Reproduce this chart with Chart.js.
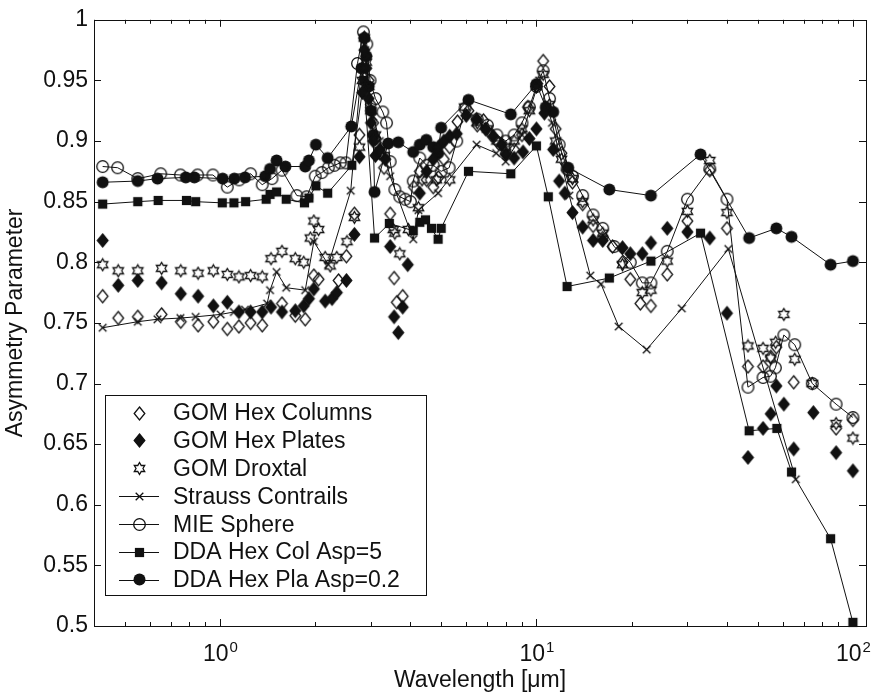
<!DOCTYPE html>
<html>
<head>
<meta charset="utf-8">
<title>Asymmetry Parameter vs Wavelength</title>
<script src="https://cdn.jsdelivr.net/npm/chart.js@4.4.1/dist/chart.umd.min.js"></script>
<style>
  html, body { margin: 0; padding: 0; background: #fff; }
  #wrap { width: 872px; height: 693px; }
</style>
</head>
<body>
<div id="wrap"><canvas id="chart" width="872" height="693"></canvas></div>
<script>
// ---------------------------------------------------------------------------
// Data (wavelength in micrometres, asymmetry parameter g)
// ---------------------------------------------------------------------------
const gomColWl = [0.426, 0.477, 0.55, 0.654, 0.752, 0.853, 0.953, 1.055, 1.148, 1.25, 1.36, 1.57, 1.73, 1.86, 1.98, 2.05, 2.37, 2.51, 2.66, 2.76, 2.82, 2.86, 2.9, 2.95, 3.0, 3.05, 3.1, 3.2, 3.3, 3.45, 3.55, 3.62, 3.78, 4.1, 4.28, 4.5, 4.72, 4.9, 5.1, 5.32, 5.63, 6.1, 6.5, 6.8, 7.2, 7.6, 8.0, 8.5, 9.0, 9.4, 10.0, 10.5, 11.0, 11.5, 12.0, 12.5, 13.0, 14.0, 15.1, 16.2, 17.4, 18.7, 19.8, 21.3, 23.0, 25.9, 30.0, 35.3, 40.0, 46.6, 52.0, 55.0, 57.3, 65.0, 88.5, 100];
const gomColG = [0.772, 0.754, 0.755, 0.757, 0.751, 0.748, 0.751, 0.745, 0.747, 0.750, 0.748, 0.766, 0.756, 0.753, 0.789, 0.786, 0.785, 0.805, 0.840, 0.905, 0.960, 0.985, 0.970, 0.950, 0.930, 0.915, 0.902, 0.890, 0.878, 0.840, 0.787, 0.767, 0.772, 0.862, 0.875, 0.868, 0.862, 0.870, 0.885, 0.895, 0.916, 0.925, 0.913, 0.917, 0.905, 0.898, 0.890, 0.893, 0.905, 0.928, 0.945, 0.966, 0.945, 0.910, 0.890, 0.876, 0.866, 0.848, 0.830, 0.820, 0.813, 0.800, 0.786, 0.766, 0.764, 0.790, 0.834, 0.876, 0.828, 0.714, 0.714, 0.722, 0.730, 0.701, 0.663, 0.670];

const gomPlaWl = [0.426, 0.477, 0.55, 0.654, 0.752, 0.853, 0.953, 1.055, 1.148, 1.25, 1.36, 1.45, 1.57, 1.73, 1.84, 1.91, 1.98, 2.15, 2.26, 2.34, 2.51, 2.66, 2.76, 2.82, 2.86, 2.9, 2.95, 3.0, 3.05, 3.1, 3.2, 3.33, 3.45, 3.55, 3.66, 3.78, 3.92, 4.28, 4.5, 4.72, 4.9, 5.1, 5.32, 5.6, 6.0, 6.47, 6.9, 7.3, 7.76, 8.0, 8.5, 9.07, 9.5, 10.0, 10.6, 11.3, 11.8, 12.3, 13.0, 14.0, 15.1, 16.2, 18.7, 19.8, 21.6, 23.0, 25.9, 30.0, 35.3, 40.0, 46.6, 52.0, 55.0, 57.3, 60.5, 65.0, 75.0, 88.5, 100];
const gomPlaG = [0.818, 0.781, 0.785, 0.783, 0.774, 0.772, 0.764, 0.767, 0.759, 0.759, 0.759, 0.763, 0.759, 0.760, 0.764, 0.770, 0.778, 0.768, 0.770, 0.775, 0.785, 0.823, 0.887, 0.940, 0.975, 0.960, 0.935, 0.915, 0.900, 0.888, 0.893, 0.885, 0.813, 0.755, 0.742, 0.763, 0.798, 0.857, 0.875, 0.885, 0.895, 0.900, 0.904, 0.906, 0.921, 0.918, 0.910, 0.904, 0.897, 0.889, 0.886, 0.891, 0.902, 0.910, 0.923, 0.893, 0.867, 0.857, 0.841, 0.829, 0.818, 0.818, 0.812, 0.807, 0.807, 0.816, 0.828, 0.825, 0.820, 0.758, 0.639, 0.663, 0.675, 0.698, 0.683, 0.646, 0.676, 0.643, 0.628];

const gomDroxWl = [0.426, 0.477, 0.55, 0.654, 0.752, 0.853, 0.953, 1.055, 1.148, 1.25, 1.36, 1.45, 1.57, 1.73, 1.84, 1.93, 1.98, 2.05, 2.15, 2.23, 2.34, 2.52, 2.66, 2.76, 2.82, 2.86, 2.9, 2.95, 3.0, 3.1, 3.2, 3.3, 3.53, 3.57, 3.7, 3.94, 4.24, 4.35, 4.83, 5.32, 5.93, 6.5, 7.0, 7.5, 8.0, 8.5, 9.0, 9.5, 10.0, 10.5, 11.0, 11.5, 12.0, 13.0, 14.0, 15.1, 16.2, 18.7, 21.6, 23.0, 25.9, 30.0, 35.3, 40.0, 46.6, 52.0, 55.0, 57.0, 60.5, 65.5, 74.4, 88.5, 100];
const gomDroxG = [0.798, 0.793, 0.793, 0.795, 0.793, 0.791, 0.793, 0.790, 0.788, 0.789, 0.788, 0.803, 0.809, 0.803, 0.800, 0.820, 0.834, 0.827, 0.804, 0.797, 0.804, 0.817, 0.837, 0.895, 0.950, 0.985, 0.965, 0.945, 0.925, 0.905, 0.892, 0.888, 0.827, 0.824, 0.807, 0.827, 0.845, 0.868, 0.868, 0.868, 0.928, 0.915, 0.910, 0.900, 0.895, 0.900, 0.910, 0.925, 0.945, 0.955, 0.930, 0.900, 0.885, 0.869, 0.850, 0.835, 0.824, 0.798, 0.775, 0.777, 0.801, 0.842, 0.884, 0.841, 0.731, 0.729, 0.721, 0.734, 0.757, 0.720, 0.700, 0.667, 0.655];

const straussWl = [0.426, 0.55, 0.635, 0.75, 0.838, 1.005, 1.107, 1.2, 1.41, 1.44, 1.51, 1.62, 1.86, 1.98, 2.2, 2.59, 2.8, 2.88, 2.95, 3.05, 3.2, 3.45, 4.08, 4.24, 4.89, 6.47, 7.46, 8.0, 9.0, 10.2, 11.2, 12.7, 14.8, 16.0, 18.2, 22.3, 28.8, 40.4, 66.0];
const straussG = [0.746, 0.751, 0.753, 0.754, 0.755, 0.757, 0.759, 0.761, 0.766, 0.777, 0.792, 0.779, 0.777, 0.817, 0.798, 0.859, 0.960, 0.975, 0.945, 0.920, 0.900, 0.871, 0.819, 0.843, 0.857, 0.897, 0.890, 0.883, 0.905, 0.950, 0.915, 0.855, 0.789, 0.782, 0.747, 0.728, 0.762, 0.811, 0.621];

const mieWl = [0.426, 0.475, 0.55, 0.65, 0.75, 0.85, 0.95, 1.055, 1.15, 1.25, 1.36, 1.46, 1.57, 1.75, 1.88, 2.0, 2.1, 2.2, 2.3, 2.4, 2.5, 2.72, 2.84, 2.91, 2.98, 3.1, 3.27, 3.36, 3.45, 3.57, 3.7, 3.85, 4.0, 4.08, 4.28, 4.5, 4.72, 5.0, 5.3, 5.6, 5.95, 6.5, 7.0, 7.5, 8.0, 8.5, 9.0, 9.5, 10.0, 10.5, 11.0, 11.8, 12.5, 13.0, 14.0, 15.1, 16.2, 17.6, 19.8, 21.6, 23.0, 25.9, 30.0, 35.3, 40.0, 46.6, 52.0, 54.9, 56.9, 60.5, 65.5, 74.4, 88.5, 100];
const mieG = [0.879, 0.878, 0.869, 0.873, 0.872, 0.872, 0.872, 0.862, 0.868, 0.873, 0.864, 0.869, 0.876, 0.855, 0.854, 0.871, 0.874, 0.878, 0.880, 0.882, 0.882, 0.964, 0.990, 0.980, 0.950, 0.935, 0.924, 0.915, 0.883, 0.860, 0.854, 0.852, 0.850, 0.867, 0.886, 0.880, 0.880, 0.875, 0.878, 0.900, 0.927, 0.918, 0.913, 0.905, 0.900, 0.905, 0.915, 0.928, 0.945, 0.958, 0.935, 0.897, 0.877, 0.871, 0.855, 0.839, 0.828, 0.813, 0.800, 0.783, 0.783, 0.809, 0.852, 0.877, 0.852, 0.697, 0.705, 0.706, 0.713, 0.740, 0.732, 0.700, 0.683, 0.672];

const ddaColWl = [0.426, 0.55, 0.638, 0.784, 0.838, 1.017, 1.107, 1.205, 1.40, 1.44, 1.51, 1.62, 1.85, 1.91, 2.01, 2.19, 2.61, 2.85, 3.08, 3.43, 4.08, 4.28, 4.46, 4.66, 4.89, 5.0, 6.1, 8.3, 10.0, 10.9, 12.5, 17.0, 23.0, 33.0, 47.0, 57.5, 64.0, 85.0, 100];
const ddaColG = [0.848, 0.850, 0.851, 0.851, 0.850, 0.849, 0.849, 0.850, 0.852, 0.856, 0.858, 0.852, 0.849, 0.853, 0.863, 0.857, 0.880, 0.950, 0.820, 0.832, 0.826, 0.833, 0.835, 0.828, 0.819, 0.828, 0.875, 0.873, 0.896, 0.854, 0.780, 0.787, 0.801, 0.824, 0.661, 0.663, 0.627, 0.572, 0.503];

const ddaPlaWl = [0.426, 0.55, 0.635, 0.78, 0.83, 1.02, 1.11, 1.20, 1.39, 1.44, 1.51, 1.61, 1.86, 1.91, 2.01, 2.19, 2.60, 2.80, 2.86, 2.90, 2.95, 3.00, 3.05, 3.08, 3.40, 3.66, 4.08, 4.28, 4.49, 4.72, 4.89, 5.0, 6.1, 8.3, 10.0, 10.7, 11.3, 12.6, 17.0, 23.0, 33.0, 47.0, 57.3, 64.0, 85.0, 100];
const ddaPlaG = [0.866, 0.867, 0.869, 0.870, 0.870, 0.869, 0.869, 0.870, 0.871, 0.877, 0.884, 0.879, 0.879, 0.884, 0.897, 0.886, 0.912, 0.960, 0.985, 0.970, 0.945, 0.925, 0.905, 0.858, 0.898, 0.899, 0.891, 0.897, 0.901, 0.895, 0.890, 0.911, 0.934, 0.922, 0.947, 0.928, 0.924, 0.878, 0.860, 0.855, 0.889, 0.820, 0.828, 0.821, 0.798, 0.801];

const seriesLabels = ['GOM Hex Columns', 'GOM Hex Plates', 'GOM Droxtal', 'Strauss Contrails',
                      'MIE Sphere', 'DDA Hex Col Asp=5', 'DDA Hex Pla Asp=0.2'];

// Axis ticks
const yTicks = [0.5, 0.55, 0.6, 0.65, 0.7, 0.75, 0.8, 0.85, 0.9, 0.95, 1];
const yTickLabels = ['0.5', '0.55', '0.6', '0.65', '0.7', '0.75', '0.8', '0.85', '0.9', '0.95', '1'];
const xTicks = [1, 10, 100];
const xTickBase = '10';
const xTickExponents = ['0', '1', '2'];

// ---------------------------------------------------------------------------
// Styling helpers
// ---------------------------------------------------------------------------
const FONT = '"Liberation Sans", Arial, Helvetica, sans-serif';
const FONT_SIZE = 23;
const EXP_SIZE = 15;
const INK = '#111';

function markerCanvas(w, h, draw) {
    const c = document.createElement('canvas');
    c.width = w;
    c.height = h;
    const ctx = c.getContext('2d');
    ctx.strokeStyle = INK;
    ctx.fillStyle = INK;
    ctx.lineWidth = 1.3;
    draw(ctx, w / 2, h / 2);
    return c;
}

function diamondPath(ctx, cx, cy, hw, hh) {
    ctx.beginPath();
    ctx.moveTo(cx, cy - hh);
    ctx.lineTo(cx + hw, cy);
    ctx.lineTo(cx, cy + hh);
    ctx.lineTo(cx - hw, cy);
    ctx.closePath();
}

function hexagramPath(ctx, cx, cy, r) {
    const inner = r / Math.sqrt(3);
    ctx.beginPath();
    for (let i = 0; i < 12; i++) {
        const a = -Math.PI / 2 + i * Math.PI / 6;
        const rr = i % 2 === 0 ? r : inner;
        const px = cx + rr * Math.cos(a);
        const py = cy + rr * Math.sin(a);
        if (i === 0) ctx.moveTo(px, py); else ctx.lineTo(px, py);
    }
    ctx.closePath();
}

const markers = {
    diamondOpen: markerCanvas(15, 17, (ctx, cx, cy) => { diamondPath(ctx, cx, cy, 5.3, 6.5); ctx.stroke(); }),
    diamondFilled: markerCanvas(15, 17, (ctx, cx, cy) => { diamondPath(ctx, cx, cy, 5.3, 6.5); ctx.fill(); ctx.stroke(); }),
    hexagram: markerCanvas(15, 15, (ctx, cx, cy) => { hexagramPath(ctx, cx, cy, 6); ctx.stroke(); }),
    cross: markerCanvas(11, 11, (ctx, cx, cy) => {
        ctx.beginPath();
        ctx.moveTo(cx - 3.8, cy - 3.8); ctx.lineTo(cx + 3.8, cy + 3.8);
        ctx.moveTo(cx + 3.8, cy - 3.8); ctx.lineTo(cx - 3.8, cy + 3.8);
        ctx.stroke();
    }),
    circleOpen: markerCanvas(15, 15, (ctx, cx, cy) => { ctx.beginPath(); ctx.arc(cx, cy, 5.8, 0, Math.PI * 2); ctx.stroke(); }),
    circleFilled: markerCanvas(15, 15, (ctx, cx, cy) => { ctx.beginPath(); ctx.arc(cx, cy, 6, 0, Math.PI * 2); ctx.fill(); }),
    square: markerCanvas(13, 13, (ctx, cx, cy) => { ctx.fillRect(cx - 4.6, cy - 4.6, 9.2, 9.2); })
};

function makeSeries(label, wl, g, marker, showLine) {
    return {
        label,
        data: wl.map((x, i) => ({ x, y: g[i] })),
        pointStyle: marker,
        pointRadius: 5,
        pointHoverRadius: 5,
        showLine,
        borderColor: INK,
        borderWidth: 1,
        backgroundColor: INK,
        tension: 0,
        clip: false
    };
}

const datasets = [
    makeSeries(seriesLabels[0], gomColWl, gomColG, markers.diamondOpen, false),
    makeSeries(seriesLabels[1], gomPlaWl, gomPlaG, markers.diamondFilled, false),
    makeSeries(seriesLabels[2], gomDroxWl, gomDroxG, markers.hexagram, false),
    makeSeries(seriesLabels[3], straussWl, straussG, markers.cross, true),
    makeSeries(seriesLabels[4], mieWl, mieG, markers.circleOpen, true),
    makeSeries(seriesLabels[5], ddaColWl, ddaColG, markers.square, true),
    makeSeries(seriesLabels[6], ddaPlaWl, ddaPlaG, markers.circleFilled, true)
];

// ---------------------------------------------------------------------------
// Plugins: MATLAB style box with inward ticks, decade labels and legend
// ---------------------------------------------------------------------------
const axesBox = {
    id: 'axesBox',
    afterDraw(chart) {
        const { ctx, chartArea: a, scales } = chart;
        const xs = scales.x, ys = scales.y;
        ctx.save();
        ctx.strokeStyle = INK;
        ctx.lineWidth = 1;
        ctx.strokeRect(Math.round(a.left) + 0.5, Math.round(a.top) + 0.5,
                       Math.round(a.right - a.left), Math.round(a.bottom - a.top));

        ctx.beginPath();
        // log ticks on bottom and top
        for (let d = -1; d <= 2; d++) {
            for (let m = 1; m <= 9; m++) {
                const v = m * Math.pow(10, d);
                if (v < xs.min || v > xs.max) continue;
                const px = Math.round(xs.getPixelForValue(v)) + 0.5;
                const len = m === 1 ? 7 : 4;
                ctx.moveTo(px, a.bottom); ctx.lineTo(px, a.bottom - len);
                ctx.moveTo(px, a.top); ctx.lineTo(px, a.top + len);
            }
        }
        // y ticks on left and right
        yTicks.forEach(v => {
            const py = Math.round(ys.getPixelForValue(v)) + 0.5;
            ctx.moveTo(a.left, py); ctx.lineTo(a.left + 7, py);
            ctx.moveTo(a.right, py); ctx.lineTo(a.right - 7, py);
        });
        ctx.stroke();

        // decade labels 10^n
        ctx.fillStyle = INK;
        ctx.textBaseline = 'alphabetic';
        ctx.textAlign = 'left';
        xTicks.forEach((v, i) => {
            const px = xs.getPixelForValue(v);
            ctx.font = `${FONT_SIZE}px ${FONT}`;
            const wBase = ctx.measureText(xTickBase).width;
            ctx.font = `${EXP_SIZE}px ${FONT}`;
            const wExp = ctx.measureText(xTickExponents[i]).width;
            const x0 = px - (wBase + wExp) / 2;
            const base = a.bottom + 35;
            ctx.font = `${FONT_SIZE}px ${FONT}`;
            ctx.fillText(xTickBase, x0, base);
            ctx.font = `${EXP_SIZE}px ${FONT}`;
            ctx.fillText(xTickExponents[i], x0 + wBase + 1, base - 9);
        });
        ctx.restore();
    }
};

const boxLegend = {
    id: 'boxLegend',
    afterDraw(chart) {
        const { ctx } = chart;
        const box = { left: 105, top: 395, right: 426, bottom: 595 };
        const rowTop = 413, rowStep = 27.8;
        ctx.save();
        ctx.fillStyle = '#fff';
        ctx.fillRect(box.left, box.top, box.right - box.left, box.bottom - box.top);
        ctx.strokeStyle = INK;
        ctx.lineWidth = 1;
        ctx.strokeRect(box.left + 0.5, box.top + 0.5, box.right - box.left, box.bottom - box.top);
        ctx.font = `${FONT_SIZE}px ${FONT}`;
        ctx.textBaseline = 'middle';
        ctx.fillStyle = INK;
        chart.data.datasets.forEach((ds, i) => {
            const y = rowTop + i * rowStep;
            if (ds.showLine) {
                ctx.beginPath();
                ctx.moveTo(119, Math.round(y) + 0.5);
                ctx.lineTo(159, Math.round(y) + 0.5);
                ctx.stroke();
            }
            const img = ds.pointStyle;
            ctx.drawImage(img, Math.round(139 - img.width / 2), Math.round(y - img.height / 2));
            ctx.fillText(ds.label, 173, y + 1);
        });
        ctx.restore();
    }
};

// ---------------------------------------------------------------------------
// Chart
// ---------------------------------------------------------------------------
new Chart(document.getElementById('chart'), {
    type: 'scatter',
    data: { datasets },
    plugins: [axesBox, boxLegend],
    options: {
        responsive: false,
        animation: false,
        devicePixelRatio: 1,
        events: [],
        layout: { padding: { left: 0, right: 4, top: 16, bottom: 0 } },
        plugins: {
            legend: { display: false },
            tooltip: { enabled: false }
        },
        scales: {
            x: {
                type: 'logarithmic',
                min: 0.4,
                max: 110,
                grid: { display: false, drawTicks: false },
                border: { display: false },
                ticks: { display: false },
                title: {
                    display: true,
                    text: 'Wavelength [\u03bcm]',
                    color: INK,
                    font: { family: FONT, size: FONT_SIZE, lineHeight: 1.1 },
                    padding: { top: 0, bottom: 0 }
                },
                afterFit(scale) { scale.height = 67; }
            },
            y: {
                min: 0.5,
                max: 1,
                afterBuildTicks(scale) { scale.ticks = yTicks.map(v => ({ value: v })); },
                grid: { display: false, drawTicks: false },
                border: { display: false },
                ticks: {
                    padding: 6,
                    color: INK,
                    font: { family: FONT, size: FONT_SIZE },
                    callback: (value, index) => yTickLabels[index]
                },
                title: {
                    display: true,
                    text: 'Asymmetry Parameter',
                    color: INK,
                    font: { family: FONT, size: FONT_SIZE, lineHeight: 1.1 },
                    padding: { top: 3, bottom: 0 }
                },
                afterFit(scale) { scale.width = 94; }
            }
        }
    }
});
</script>
</body>
</html>
